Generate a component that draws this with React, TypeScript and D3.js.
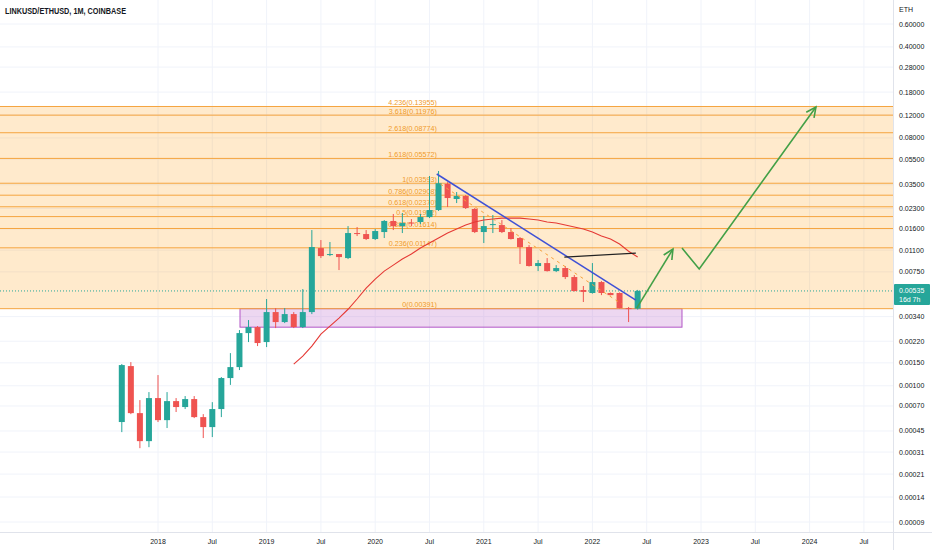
import React from 'react';
import * as d3 from 'd3';

// ---------- DATA ----------
const candleMonths = [
  '2017-09','2017-10','2017-11','2017-12',
  '2018-01','2018-02','2018-03','2018-04','2018-05','2018-06','2018-07','2018-08','2018-09','2018-10','2018-11','2018-12',
  '2019-01','2019-02','2019-03','2019-04','2019-05','2019-06','2019-07','2019-08','2019-09','2019-10','2019-11','2019-12',
  '2020-01','2020-02','2020-03','2020-04','2020-05','2020-06','2020-07','2020-08','2020-09','2020-10','2020-11','2020-12',
  '2021-01','2021-02','2021-03','2021-04','2021-05','2021-06','2021-07','2021-08','2021-09','2021-10','2021-11','2021-12',
  '2022-01','2022-02','2022-03','2022-04','2022-05','2022-06',
];
const openP = [
  0.000527,0.001417,0.000617,0.000376,
  0.000805,0.000545,0.000763,0.000687,0.000791,0.000575,0.000482,0.000663,0.001147,0.001392,0.00254,0.002825,
  0.002167,0.003683,0.003087,0.003554,0.002825,0.003683,0.01142,0.01009,0.01027,0.00957,0.01489,0.01463,
  0.0134,0.01516,0.01844,0.01685,0.01794,0.0181,0.01976,0.02237,0.0356,0.02718,0.02866,0.02278,
  0.01516,0.01715,0.01715,0.01516,0.01364,0.01163,0.00831,0.00876,0.0076,0.00802,0.00684,0.00544,
  0.00516,0.00626,0.00516,0.00516,0.003952,0.00391,
];
const highP = [
  0.00147,0.00152,0.000777,0.000895,
  0.001209,0.000895,0.000805,0.000834,0.000834,0.000606,0.000749,0.001167,0.001783,0.00268,0.003198,0.002876,
  0.00464,0.003952,0.003952,0.003683,0.00553,0.0157,0.01316,0.01271,0.01027,0.01685,0.01656,0.0157,
  0.01598,0.01874,0.02086,0.02123,0.01907,0.02086,0.0408,0.0446,0.0366,0.03076,0.02915,0.02318,
  0.02012,0.02049,0.01874,0.01627,0.01388,0.01204,0.00924,0.00957,0.00845,0.00831,0.00709,0.00584,
  0.00876,0.00637,0.0052,0.00521,0.00403,0.00545,
];
const lowP = [
  0.000441,0.000606,0.000332,0.000338,
  0.000527,0.000474,0.000629,0.000663,0.000565,0.000397,0.000404,0.000575,0.001016,0.001321,0.002167,0.002019,
  0.001983,0.002775,0.003032,0.002775,0.002775,0.003554,0.00957,0.00991,0.00774,0.0094,0.01412,0.01316,
  0.01316,0.01364,0.0157,0.01489,0.01685,0.01745,0.0194,0.022,0.02359,0.02531,0.02278,0.01489,
  0.01248,0.01489,0.01489,0.01328,0.00861,0.00824,0.0076,0.00754,0.00747,0.0066,0.0053,0.0044,
  0.0051,0.00497,0.00495,0.00393,0.003087,0.00385,
];
const closeP = [
  0.001443,0.000617,0.000376,0.000805,
  0.000545,0.000763,0.000687,0.000791,0.000575,0.000482,0.000663,0.001147,0.001392,0.00254,0.002825,0.00213,
  0.003683,0.003087,0.003554,0.002825,0.003683,0.01163,0.00991,0.01027,0.00974,0.01489,0.01463,0.0134,
  0.01543,0.01844,0.01685,0.01777,0.01761,0.01976,0.02237,0.03593,0.02766,0.02866,0.02318,0.01516,
  0.01685,0.01745,0.01516,0.0134,0.01163,0.00831,0.00876,0.0076,0.00802,0.00684,0.00534,0.00526,
  0.00626,0.00516,0.00497,0.003952,0.00391,0.00535,
];

// moving average (red), Apr 2019 .. Jun 2022
const maStart = '2019-04';
const maValues = [
  0.001469,0.001691,0.002019,0.002495,0.002876,0.00331,0.00387,0.00464,0.00563,
  0.0066,0.0076,0.00845,0.0094,0.01027,0.01142,0.01248,0.01364,0.01489,0.01598,0.01715,0.0181,
  0.01874,0.01907,0.0194,0.0194,0.0194,0.01907,0.01874,0.0181,0.01777,0.01715,0.01656,0.01598,
  0.01516,0.01412,0.0134,0.01226,0.0108,0.00974,
];

// Fibonacci levels
const fibRatios = ['4.236','3.618','2.618','1.618','1','0.786','0.618','0.5','0.382','0.236','0'];
const fibPrices = [0.13955,0.11976,0.08774,0.05572,0.03593,0.02908,0.0237,0.01992,0.01614,0.01147,0.00391];

// axis ticks
const yTicks = [0.6,0.4,0.28,0.18,0.12,0.08,0.055,0.035,0.023,0.016,0.011,0.0075,0.0034,0.0022,0.0015,0.001,0.0007,0.00045,0.00031,0.00021,0.00014,0.00009];
const xTickLabels = ['2018','Jul','2019','Jul','2020','Jul','2021','Jul','2022','Jul','2023','Jul','2024','Jul'];
const xTickMonths = [0,6,12,18,24,30,36,42,48,54,60,66,72,78];

// drawings: [month index from Jan 2018, price]
const blueLine = [[30.8, 0.0423],[52.8, 0.00455]];
const orangeDash = [[31.2, 0.0354],[51.3, 0.00422]];
const blackLine = [[44.9, 0.00974],[52.8, 0.01045]];
const greenArrow1 = [[52.9, 0.00395],[56.9, 0.01122]];
const greenArrow2 = [[57.9, 0.01142],[59.8, 0.00788],[72.7, 0.1382]];
const supportBox = { m0: 9.06, m1: 57.9, top: 0.00391, bottom: 0.00282 };
const lastPrice = 0.00535;
const lastPriceLabel = '0.00535';
const countdown = '16d 7h';
const title = 'LINKUSD/ETHUSD, 1M, COINBASE';

// ---------- CHART ----------
const UP = '#26a69a';
const DOWN = '#ef5350';
const FONT = 'Liberation Sans, Arial, sans-serif';

function monthIndex(s: string) {
  const [yy, mm] = s.split('-').map(Number);
  return (yy - 2018) * 12 + (mm - 1);
}

function arrowHead(pts: number[][], len = 11, ang = 0.45) {
  const [x1, y1] = pts[pts.length - 2];
  const [x2, y2] = pts[pts.length - 1];
  const a = Math.atan2(y2 - y1, x2 - x1);
  const p1 = [x2 - len * Math.cos(a - ang), y2 - len * Math.sin(a - ang)];
  const p2 = [x2 - len * Math.cos(a + ang), y2 - len * Math.sin(a + ang)];
  return `M${p1[0]},${p1[1]}L${x2},${y2}L${p2[0]},${p2[1]}`;
}

export default function App() {
  const W = 932, H = 550;
  const plotR = 893, plotB = 532;
  const x = d3.scaleLinear().domain([0, 72]).range([158, 809.6]);
  const y = d3.scaleLog().domain([0.00009, 0.6]).range([522, 24]);
  const line = d3.line<number[]>().x(d => x(d[0])).y(d => y(d[1]));
  const toPx = (pts: number[][]) => pts.map(p => [x(p[0]), y(p[1])]);

  const maStartIdx = monthIndex(maStart);
  const maPts = maValues.map((v, i) => [maStartIdx + i, v]);

  const fibTop = fibPrices[0];
  const fibBottom = fibPrices[fibPrices.length - 1];

  return (
    <svg width={W} height={H} style={{ position: 'absolute', left: 0, top: 0, background: '#fff' }} fontFamily={FONT}>
      <defs>
        <clipPath id="plot"><rect x={0} y={0} width={plotR} height={plotB} /></clipPath>
      </defs>
      <rect x={0} y={0} width={W} height={H} fill="#fff" />
      <g clipPath="url(#plot)">
        {/* grid */}
        {xTickMonths.map((m, i) => (
          <line key={'vg' + i} x1={x(m)} x2={x(m)} y1={0} y2={plotB} stroke="#f0f3fa" strokeWidth={1} />
        ))}
        {yTicks.map((t, i) => (
          <line key={'hg' + i} x1={0} x2={plotR} y1={y(t)} y2={y(t)} stroke="#f0f3fa" strokeWidth={1} />
        ))}
        {/* fib fill */}
        <rect x={0} y={y(fibTop)} width={plotR} height={y(fibBottom) - y(fibTop)} fill="#ff9800" fillOpacity={0.2} />
        {/* support box */}
        <rect x={x(supportBox.m0)} y={y(supportBox.top)} width={x(supportBox.m1) - x(supportBox.m0)}
          height={y(supportBox.bottom) - y(supportBox.top)} fill="#c27bd0" fillOpacity={0.3} stroke="#b256c6" strokeWidth={1} />
        {/* fib lines */}
        {fibPrices.map((p, i) => (
          <line key={'fl' + i} x1={0} x2={plotR} y1={y(p)} y2={y(p)} stroke="#f5a43f" strokeWidth={1} />
        ))}
        {fibPrices.map((p, i) => (
          <text key={'ft' + i} x={437} y={y(p) - 1.5} textAnchor="end" fontSize={7.2} fill="#f09a2a">
            {`${fibRatios[i]}(${p.toFixed(5)})`}
          </text>
        ))}
        {/* last price dotted line */}
        <line x1={0} x2={plotR} y1={y(lastPrice)} y2={y(lastPrice)} stroke={UP} strokeWidth={1} strokeDasharray="1,2" />
        {/* candles */}
        {candleMonths.map((mStr, i) => {
          const m = monthIndex(mStr);
          const cx = x(m);
          const o = openP[i], c = closeP[i];
          const col = c >= o ? UP : DOWN;
          const top = y(Math.max(o, c));
          const bot = y(Math.min(o, c));
          return (
            <g key={'c' + i}>
              <line x1={cx} x2={cx} y1={y(highP[i])} y2={y(lowP[i])} stroke={col} strokeWidth={1} />
              <rect x={cx - 3} y={top} width={6} height={Math.max(1, bot - top)} fill={col} />
            </g>
          );
        })}
        {/* moving average */}
        <path d={line(maPts) || ''} fill="none" stroke="#e53935" strokeWidth={1.1} />
        {/* trend lines */}
        <path d={line(blueLine) || ''} fill="none" stroke="#3f51d6" strokeWidth={1.5} />
        <path d={line(orangeDash) || ''} fill="none" stroke="#f6a13b" strokeWidth={1} strokeDasharray="3,4" />
        <path d={line(blackLine) || ''} fill="none" stroke="#222" strokeWidth={1.2} />
        {/* arrows */}
        <path d={line(greenArrow1) || ''} fill="none" stroke="#43a047" strokeWidth={1.6} />
        <path d={arrowHead(toPx(greenArrow1))} fill="none" stroke="#43a047" strokeWidth={1.6} />
        <path d={line(greenArrow2) || ''} fill="none" stroke="#43a047" strokeWidth={1.6} />
        <path d={arrowHead(toPx(greenArrow2))} fill="none" stroke="#43a047" strokeWidth={1.6} />
        {/* title */}
        <text x={5} y={14} fontSize={8.6} fontWeight={700} fill="#131722" textLength={121} lengthAdjust="spacingAndGlyphs">{title}</text>
      </g>
      {/* axes */}
      <line x1={plotR + 0.5} x2={plotR + 0.5} y1={0} y2={H} stroke="#e0e3eb" />
      <line x1={0} x2={W} y1={plotB + 0.5} y2={plotB + 0.5} stroke="#e0e3eb" />
      <text x={899} y={12} fontSize={7} fill="#131722">ETH</text>
      {yTicks.map((t, i) => (
        <text key={'yt' + i} x={899} y={y(t) + 2.5} fontSize={7} fill="#131722">{t.toFixed(5)}</text>
      ))}
      {xTickMonths.map((m, i) => (
        <text key={'xt' + i} x={x(m)} y={544} textAnchor="middle" fontSize={7} fill="#131722">{xTickLabels[i]}</text>
      ))}
      <rect x={plotR + 1} y={y(lastPrice) - 7} width={W - plotR - 3} height={21} fill={UP} rx={1} />
      <text x={899} y={y(lastPrice) + 2} fontSize={7} fill="#fff">{lastPriceLabel}</text>
      <text x={899} y={y(lastPrice) + 11} fontSize={7} fill="#fff">{countdown}</text>
    </svg>
  );
}
